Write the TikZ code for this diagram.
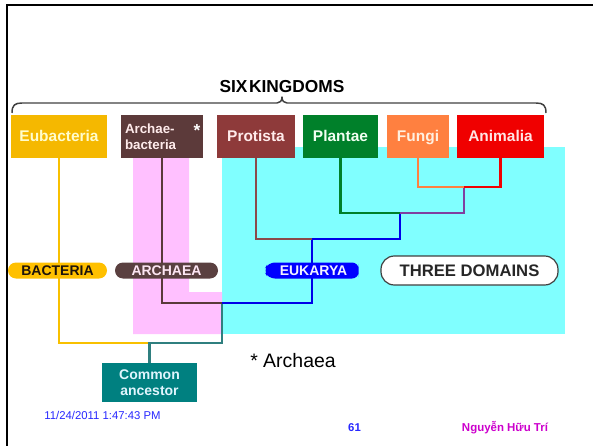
\documentclass[tikz,border=0pt]{standalone}
\usepackage{fontspec}
\setmainfont{Liberation Sans}
\usetikzlibrary{shapes.symbols}
\definecolor{cEub}{HTML}{F5B800}
\definecolor{cArch}{HTML}{5C3A3A}
\definecolor{cProt}{HTML}{8E3A3A}
\definecolor{cPlan}{HTML}{00802A}
\definecolor{cFung}{HTML}{FF8040}
\definecolor{cAnim}{HTML}{F00000}
\definecolor{cAnc}{HTML}{008080}
\definecolor{cCyan}{HTML}{80FFFF}
\definecolor{cPink}{HTML}{FFC0FF}
\definecolor{cYel}{HTML}{F8C000}
\definecolor{cTeal}{HTML}{2F7F7F}
\definecolor{cArchL}{HTML}{5A3A3A}
\definecolor{cProtL}{HTML}{8B4A4A}
\definecolor{cPurp}{HTML}{8040A0}
\definecolor{cBlue}{HTML}{0000E8}
\definecolor{cBactP}{HTML}{FFC000}
\definecolor{cArchP}{HTML}{5A4040}
\definecolor{cEukP}{HTML}{0000FF}
\definecolor{cDate}{HTML}{2828FF}
\definecolor{cName}{HTML}{CC00CC}
\begin{document}
\begin{tikzpicture}[x=0.75pt,y=-0.75pt,
  kbox/.style={rectangle, inner sep=0pt, minimum height=32.25pt, text height=8.4pt, text depth=0.4pt,
    font=\fontsize{11.6}{13}\selectfont\bfseries},
  conn/.style={line width=2.2pt},
  pill/.style={rectangle, inner sep=0pt, minimum height=12pt, rounded corners=6pt,
    text height=7.6pt, text depth=0.2pt, font=\fontsize{10.5}{12}\selectfont\bfseries},
  foot/.style={inner sep=0pt, font=\fontsize{8.5}{10}\selectfont}
]
\useasboundingbox (0,0) rectangle (593,446);
% frame
\draw[line width=1.6pt] (7,446) -- (7,5) -- (593,5);
% domain backgrounds
\fill[cCyan] (222,147) rectangle (565,334);
\fill[cPink] (133,158) -- (189,158) -- (189,292) -- (222,292) -- (222,334) -- (133,334) -- cycle;
% title and brace
\node[inner sep=0pt, font=\fontsize{13}{15}\selectfont\bfseries] (title) at (282,87) {SIX\hspace{1.2pt}KINGDOMS};
\draw[line width=1.1pt, color=black!75, line join=round] (12,113) .. controls (12,105) and (15,103) .. (22,103) -- (277,103)
  .. controls (280,103) and (282,101) .. (282,97) .. controls (282,101) and (284,103) .. (287,103) -- (536,103)
  .. controls (543,103) and (546,105) .. (546,113);
% kingdom boxes
\node[kbox, fill=cEub, text=yellow!20, minimum width=72pt] (eub) at (59,136.5) {Eubacteria};
\node[rectangle, inner sep=0pt, minimum height=32.25pt, fill=cArch, text=white!92!red, minimum width=61.5pt, text width=55.5pt, align=left,
  font=\fontsize{10}{12}\selectfont\bfseries] (arch) at (162,136.5) {Archae-\\bacteria};
\node[inner sep=0pt, text=white, font=\fontsize{13}{14}\selectfont\bfseries] (star) at (197,131) {*};
\node[kbox, fill=cProt, text=white!92!red, minimum width=58.5pt] (prot) at (256,136.5) {Protista};
\node[kbox, fill=cPlan, text=white!95!green, minimum width=56.25pt] (plan) at (340.5,136.5) {Plantae};
\node[kbox, fill=cFung, text=white!88!orange, minimum width=46.5pt] (fung) at (418,136.5) {Fungi};
\node[kbox, fill=cAnim, text=white!90!red, minimum width=65.25pt] (anim) at (500.5,136.5) {Animalia};
\node[rectangle, inner sep=0pt, fill=cAnc, text=white!88!cyan, minimum width=71.25pt, minimum height=29.25pt,
  align=center, font=\fontsize{10.5}{12}\selectfont\bfseries] (anc) at (149.5,382.5) {Common\\ancestor};
% junctions
\coordinate (root) at (149.5,343);
\coordinate (j1) at (222,303);
\coordinate (j2) at (312,239);
\coordinate (j3) at (400,213);
\coordinate (j4) at (464,187);
% connectors
\draw[conn, cYel] (eub.south) |- (root);
\draw[conn, cTeal] (anc.north) -- (root) -| (j1);
\draw[conn, cArchL] (arch.south) |- (j1);
\draw[conn, cBlue] (j1) -| (j2) -| (j3);
\draw[conn, cProtL] (prot.south) |- (j2);
\draw[conn, cPlan] (plan.south) |- (j3);
\draw[conn, cPurp] (j3) -| (j4);
\draw[conn, cFung] (fung.south) |- (j4);
\draw[conn, cAnim] (anim.south) |- (j4);
% domain pills
\node[pill, fill=cBactP, text=black!85!brown, minimum width=74.25pt] (bact) at (57.5,270.5) {BACTERIA};
\node[pill, fill=cArchP, text=white!90!magenta, minimum width=77.25pt] (archaea) at (166.5,270.5) {ARCHAEA};
\node[signal, signal to=west, signal pointer angle=120, rounded corners=5pt, inner sep=0pt, fill=cEukP,
  text=white!95!blue, minimum width=71.25pt, minimum height=12pt, text height=7.6pt, text depth=0.2pt,
  font=\fontsize{10.5}{12}\selectfont\bfseries] (euk) at (313.5,270.5) {EUKARYA};
\node[rectangle, rounded corners=10pt, draw=black!75, line width=0.9pt, fill=white, inner sep=0pt,
  minimum width=132.75pt, minimum height=21.75pt, text=black!85,
  font=\fontsize{12.5}{14}\selectfont\bfseries] (three) at (469.5,270.5) {THREE DOMAINS};
% notes
\node[anchor=west, inner sep=0pt, font=\fontsize{14.6}{16}\selectfont] (note) at (250,361) {* Archaea};
\node[foot, text=cDate] (date) at (102.5,415) {11/24/2011 1:47:43 PM};
\node[foot, text=cDate, font=\fontsize{8.5}{10}\selectfont\bfseries] (page) at (354.5,428) {61};
\node[foot, text=cName, font=\fontsize{8.6}{10}\selectfont\bfseries] (author) at (505,428) {Nguyễn Hữu Trí};
\end{tikzpicture}
\end{document}
